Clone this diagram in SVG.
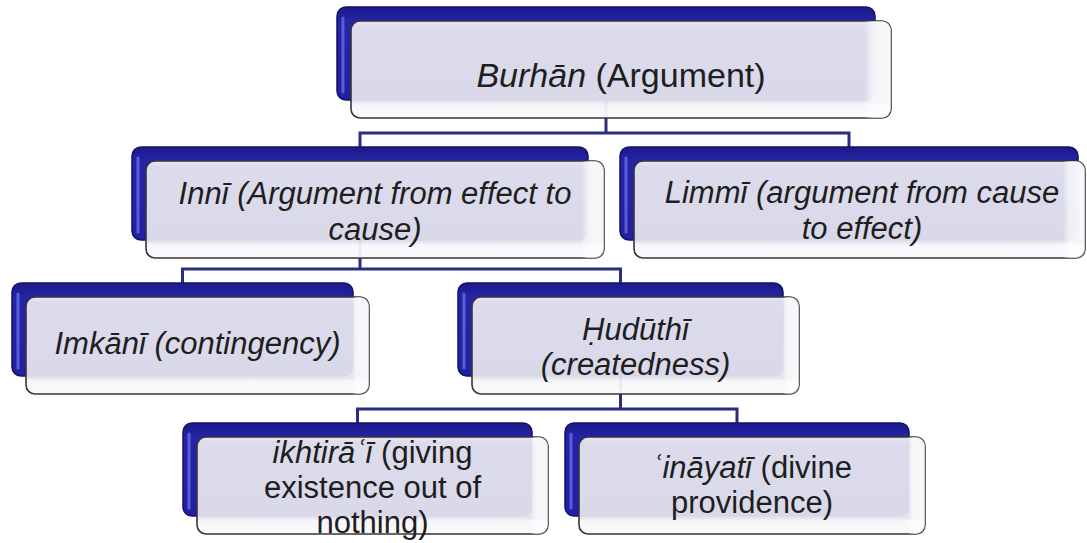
<svg xmlns="http://www.w3.org/2000/svg" width="1087" height="543" viewBox="0 0 1087 543">
<defs>
<linearGradient id="gBack" x1="0" y1="0" x2="0" y2="1">
<stop offset="0" stop-color="#1a1a86"/>
<stop offset="0.15" stop-color="#2424a6"/>
<stop offset="1" stop-color="#2020a0"/>
</linearGradient>
<linearGradient id="gFront" x1="0" y1="0" x2="0" y2="1">
<stop offset="0" stop-color="#f3f3f8"/>
<stop offset="0.06" stop-color="#e7e7f0"/>
<stop offset="0.84" stop-color="#e4e4ee"/>
<stop offset="0.86" stop-color="#f5f5f9"/>
<stop offset="1" stop-color="#fbfbfd"/>
</linearGradient>
<linearGradient id="gSide" x1="0" y1="0" x2="1" y2="0">
<stop offset="0" stop-color="#ffffff" stop-opacity="0"/>
<stop offset="0.95" stop-color="#ffffff" stop-opacity="0"/>
<stop offset="0.965" stop-color="#ffffff" stop-opacity="0.6"/>
<stop offset="1" stop-color="#ffffff" stop-opacity="0.7"/>
</linearGradient>
</defs>
<style>
.back{fill:url(#gBack);stroke:#12126a;stroke-width:1.5}
.hl{fill:none;stroke:#6c6ce6;stroke-width:3;stroke-linecap:round;opacity:0.8}
.front{fill:url(#gFront);fill-opacity:0.94;stroke:#363636;stroke-width:1.6}
.side{fill:url(#gSide);stroke:none}
.conn{fill:none;stroke:#2b2d7e;stroke-width:3}
text{font-family:"Liberation Sans",Arial,sans-serif;font-size:31px;fill:#1e1e1e;text-anchor:middle}
.it{font-style:italic}
</style>
<rect width="1087" height="543" fill="#ffffff"/>
<g id="connectors">
<path class="conn" d="M606 100 V133 M360 147 V133 H849 V147"/>
<path class="conn" d="M360 240 V269 M182.5 283 V269 H620.5 V283"/>
<path class="conn" d="M620.5 376 V409 M357.5 423 V409 H737 V423"/>
</g>
<g id="burhan">
<rect class="back" x="337" y="7" width="538" height="93" rx="9"/>
<path class="hl" d="M343 18 V92"/>
<rect class="front" x="351" y="21" width="540" height="97" rx="9"/>
<rect class="side" x="351" y="21" width="540" height="97" rx="9"/>
<text x="621" y="87" style="font-size:34px"><tspan class="it">Burhān</tspan> (Argument)</text>
</g>
<g id="inni">
<rect class="back" x="132" y="147" width="456" height="93" rx="9"/>
<path class="hl" d="M138 158 V232"/>
<rect class="front" x="146" y="161" width="458" height="97" rx="9"/>
<rect class="side" x="146" y="161" width="458" height="97" rx="9"/>
<text class="it" x="375" y="204">Innī (Argument from effect to</text>
<text class="it" x="375" y="240">cause)</text>
</g>
<g id="limmi">
<rect class="back" x="620" y="147" width="458" height="93" rx="9"/>
<path class="hl" d="M626 158 V232"/>
<rect class="front" x="634" y="161" width="451" height="97" rx="9"/>
<rect class="side" x="634" y="161" width="451" height="97" rx="9"/>
<text class="it" x="862" y="203">Limmī (argument from cause</text>
<text class="it" x="862" y="239">to effect)</text>
</g>
<g id="imkani">
<rect class="back" x="12" y="283" width="341" height="93" rx="9"/>
<path class="hl" d="M18 294 V368"/>
<rect class="front" x="26" y="297" width="343" height="97" rx="9"/>
<rect class="side" x="26" y="297" width="343" height="97" rx="9"/>
<text class="it" x="197.5" y="354">Imkānī (contingency)</text>
</g>
<g id="huduthi">
<rect class="back" x="458" y="283" width="325" height="93" rx="9"/>
<path class="hl" d="M464 294 V368"/>
<rect class="front" x="472" y="297" width="327" height="97" rx="9"/>
<rect class="side" x="472" y="297" width="327" height="97" rx="9"/>
<text class="it" x="635.5" y="340">Ḥudūthī</text>
<text class="it" x="635.5" y="375">(createdness)</text>
</g>
<g id="ikhtirai">
<rect class="back" x="183" y="423" width="349" height="93" rx="9"/>
<path class="hl" d="M189 434 V508"/>
<rect class="front" x="197" y="437" width="351" height="97" rx="9"/>
<rect class="side" x="197" y="437" width="351" height="97" rx="9"/>
<text x="372.5" y="463"><tspan class="it">ikhtirāʿī</tspan> (giving</text>
<text x="372.5" y="498">existence out of</text>
<text x="372.5" y="533">nothing)</text>
</g>
<g id="inayati">
<rect class="back" x="565" y="423" width="344" height="93" rx="9"/>
<path class="hl" d="M571 434 V508"/>
<rect class="front" x="579" y="437" width="346" height="97" rx="9"/>
<rect class="side" x="579" y="437" width="346" height="97" rx="9"/>
<text x="752" y="478"><tspan class="it">ʿināyatī</tspan> (divine</text>
<text x="752" y="513">providence)</text>
</g>
</svg>
